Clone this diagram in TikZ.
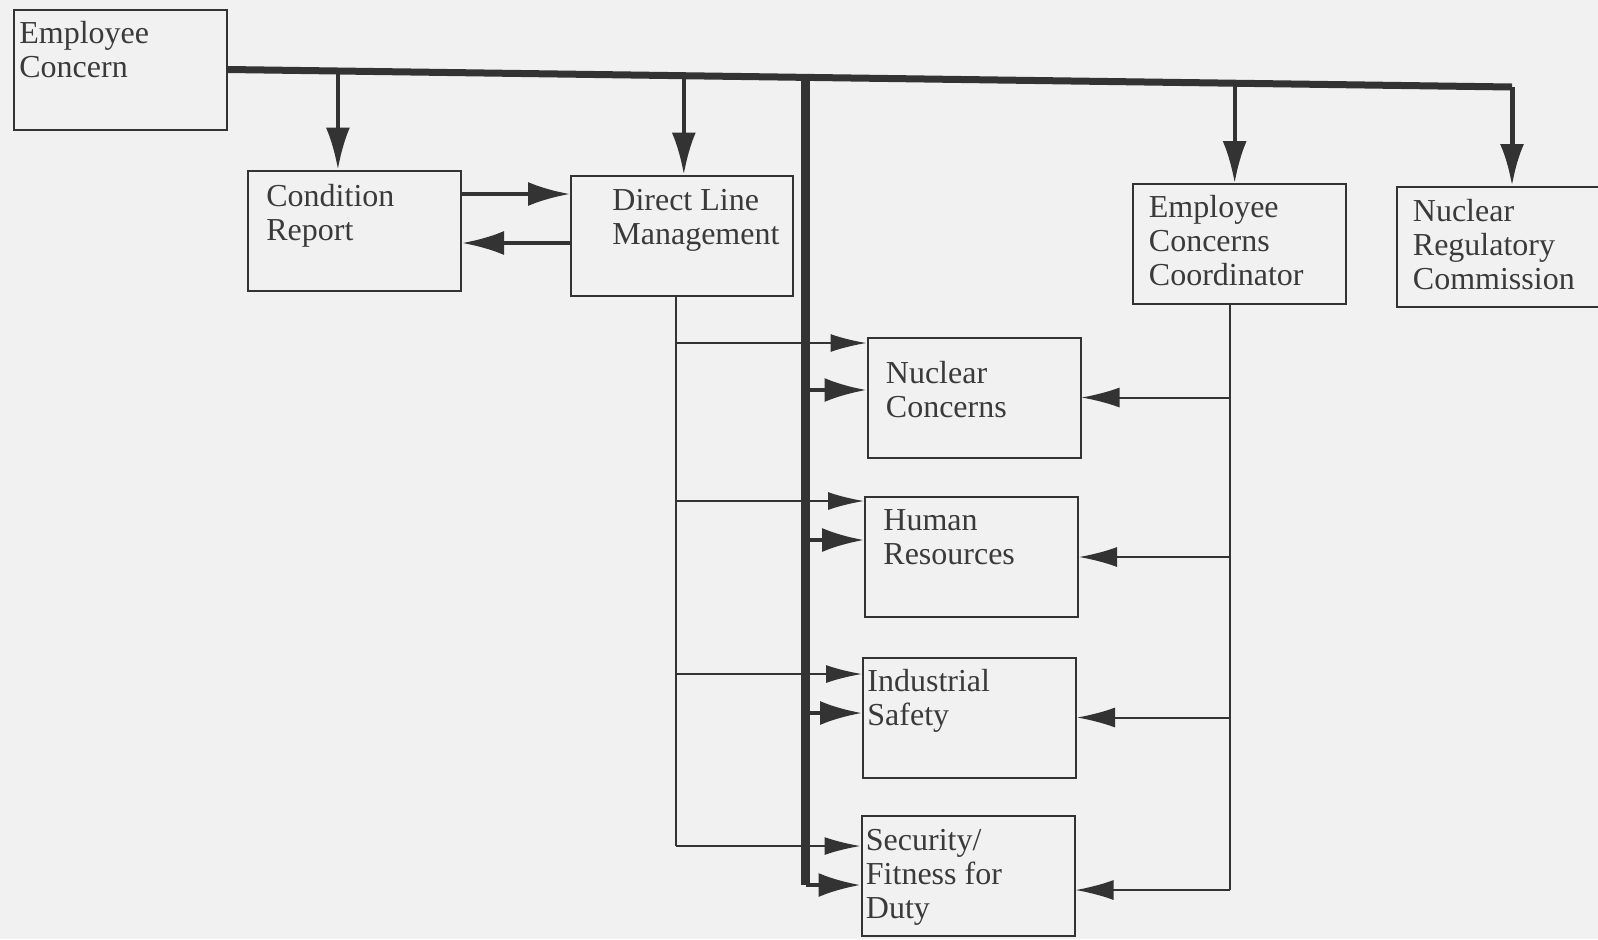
\documentclass[tikz,border=0pt]{standalone}
\usepackage{fontspec}
\setmainfont{Liberation Serif}
\usepackage{tikz}
\usetikzlibrary{arrows.meta,positioning,calc}
\definecolor{scanBg}{HTML}{F1F1F1}
\definecolor{scanInk}{HTML}{333333}
\definecolor{scanText}{HTML}{3A3A3A}

\begin{document}
\begin{tikzpicture}[x=0.5pt, y=-0.5pt,
  bx/.style={draw=scanInk, line width=1pt, minimum width=106.5pt, minimum height=60pt,
             inner sep=0pt},
  txt/.style={anchor=north west, inner sep=0pt, align=left, text=scanText,
              font=\fontsize{16}{17}\selectfont},
  bus/.style={draw=scanInk, line width=3.5pt},
  thk/.style={-{Latex[length=21pt,width=12pt]}, draw=scanInk, line width=2pt},
  thn/.style={-{Latex[length=18pt,width=9pt]}, draw=scanInk, line width=1pt},
  ln/.style={draw=scanInk, line width=1pt}]

\clip (0,0) rectangle (1598,939);
\fill[scanBg] (0,0) rectangle (1598,939);

% boxes
\node[bx] (ec)  at (120.5,69.5) {};
\node[bx] (cr)  at (354.5,230.5) {};
\node[bx, minimum width=111pt] (dlm) at (682,235.5) {};
\node[bx] (ecc) at (1239,244) {};
\node[bx] (nrc) at (1503,247) {};
\node[bx] (nc)  at (974,397.5) {};
\node[bx] (hr)  at (971.5,557) {};
\node[bx] (is)  at (969.5,717.5) {};
\node[bx] (sfd) at (968,876) {};

\node[txt] (ecT)  at ([shift={(6,12)}]ec.north west)   {Employee\\Concern};
\node[txt] (crT)  at ([shift={(19,14)}]cr.north west)  {Condition\\Report};
\node[txt] (dlmT) at ([shift={(42,14)}]dlm.north west) {Direct Line\\Management};
\node[txt] (eccT) at ([shift={(17,12)}]ecc.north west) {Employee\\Concerns\\Coordinator};
\node[txt] (nrcT) at ([shift={(17,13)}]nrc.north west) {Nuclear\\Regulatory\\Commission};
\node[txt] (ncT)  at ([shift={(19,24)}]nc.north west)  {Nuclear\\Concerns};
\node[txt] (hrT)  at ([shift={(19,13)}]hr.north west)  {Human\\Resources};
\node[txt] (isT)  at ([shift={(5,12)}]is.north west)   {Industrial\\Safety};
\node[txt] (sfdT) at ([shift={(5,14)}]sfd.north west)  {Security/\\Fitness for\\Duty};

% top bus and drops
\coordinate (busR) at (1512,87);
\draw[bus] (ec.east) -- (busR);
\path (ec.east) -- (busR) coordinate[pos=0.0856] (j1) coordinate[pos=0.355] (j2)
      coordinate[pos=0.450] (j3) coordinate[pos=0.784] (j4);
\draw[thk] (j1) -- (j1 |- cr.north);
\draw[thk] (j2) -- (j2 |- dlm.north);
\draw[thk] (j4) -- (j4 |- ecc.north);
\draw[thk, line width=2.5pt] (busR) -- (busR |- nrc.north);

\draw[thk] ([yshift=18.25pt]cr.east) -- ([yshift=18.25pt]cr.east -| dlm.west);
\draw[thk] ([yshift=-6.25pt]cr.east -| dlm.west) -- ([yshift=-6.25pt]cr.east);

% vertical bus
\draw[bus, line width=4.5pt] (j3) -- ([yshift=-4.5pt]sfd.west -| j3);
\foreach \b/\dy in {nc/3.75pt, hr/8.5pt, is/2.25pt, sfd/-4.5pt}{
  \draw[thk] ([yshift=\dy]\b.west -| j3) -- ([yshift=\dy]\b.west);}

% direct line management feed
\coordinate (dl) at ([xshift=-3pt]dlm.south);
\draw[ln] (dl) -- ([yshift=15pt]sfd.west -| dl);
\foreach \b/\dy in {nc/27.25pt, hr/28pt, is/21.75pt, sfd/15pt}{
  \draw[thn] ([yshift=\dy]\b.west -| dl) -- ([yshift=\dy]\b.west);}

% coordinator feed
\coordinate (ck) at ([xshift=-4.5pt]ecc.south);
\draw[ln] (ck) -- ([yshift=-7pt]sfd.east -| ck);
\foreach \b/\dy in {nc/0pt, hr/0pt, is/0pt, sfd/-7pt}{
  \draw[thn, -{Latex[length=19pt,width=10pt]}] ([yshift=\dy]\b.east -| ck) -- ([yshift=\dy]\b.east);}
\end{tikzpicture}
\end{document}
